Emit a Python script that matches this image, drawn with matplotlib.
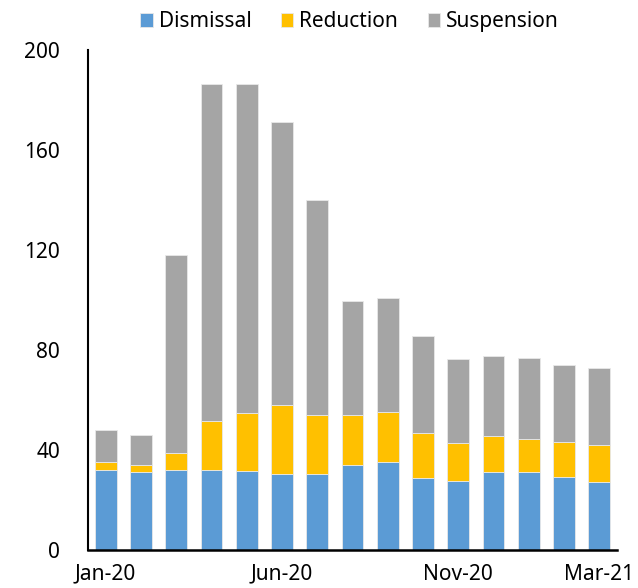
import matplotlib
matplotlib.use("Agg")
import matplotlib.pyplot as plt
import numpy as np

months = ["Jan-20", "Feb-20", "Mar-20", "Apr-20", "May-20", "Jun-20", "Jul-20",
          "Aug-20", "Sep-20", "Oct-20", "Nov-20", "Dec-20", "Jan-21", "Feb-21", "Mar-21"]
dismissal = [32.2, 31.2, 32.2, 32.2, 31.5, 30.6, 30.6, 34.2, 35.1, 29.0, 27.8, 31.1, 31.1, 29.4, 27.1]
reduction = [3.2, 3.0, 6.8, 19.5, 23.5, 27.4, 23.4, 20.0, 20.0, 17.7, 15.2, 14.6, 13.4, 13.7, 15.0]
suspension = [12.8, 12.0, 79.0, 134.7, 131.5, 113.4, 86.0, 45.5, 45.6, 39.1, 33.5, 32.0, 32.4, 31.0, 30.8]
tick_labels = {0: "Jan-20", 5: "Jun-20", 10: "Nov-20", 14: "Mar-21"}

plt.rcParams["font.family"] = ["Noto Sans", "DejaVu Sans"]

fig = plt.figure(figsize=(6.38, 5.88), dpi=100)
ax = fig.add_axes([88 / 638, 38 / 588, 529 / 638, 500 / 588])

x = np.arange(len(months))
d = np.array(dismissal)
r = np.array(reduction)
s = np.array(suspension)
w = 0.62
edge = dict(edgecolor="#e8e8e8", linewidth=0.6)
ax.bar(x, d, w, color="#5B9BD5", label="Dismissal", **edge)
ax.bar(x, r, w, bottom=d, color="#FFC000", label="Reduction", **edge)
ax.bar(x, s, w, bottom=d + r, color="#A5A5A5", label="Suspension", **edge)

ax.set_xlim(-0.5, len(months) - 0.5)
ax.set_ylim(0, 200)
ax.set_yticks(range(0, 201, 40))
ax.set_xticks(list(tick_labels.keys()))
ax.set_xticklabels(list(tick_labels.values()))
ax.tick_params(axis="both", length=0, labelsize=15, colors="black")
ax.tick_params(axis="y", pad=20)
ax.tick_params(axis="x", pad=10)

for side in ["top", "right"]:
    ax.spines[side].set_visible(False)
ax.spines["left"].set_linewidth(1.5)
ax.spines["bottom"].set_linewidth(1.8)

fig.legend(loc="upper center", bbox_to_anchor=(0.548, 1.0), ncol=3, frameon=False,
           fontsize=15, handlelength=0.6, handleheight=0.6, handletextpad=0.3,
           columnspacing=1.4, borderaxespad=0.15)

fig.savefig("out.png", dpi=100)
